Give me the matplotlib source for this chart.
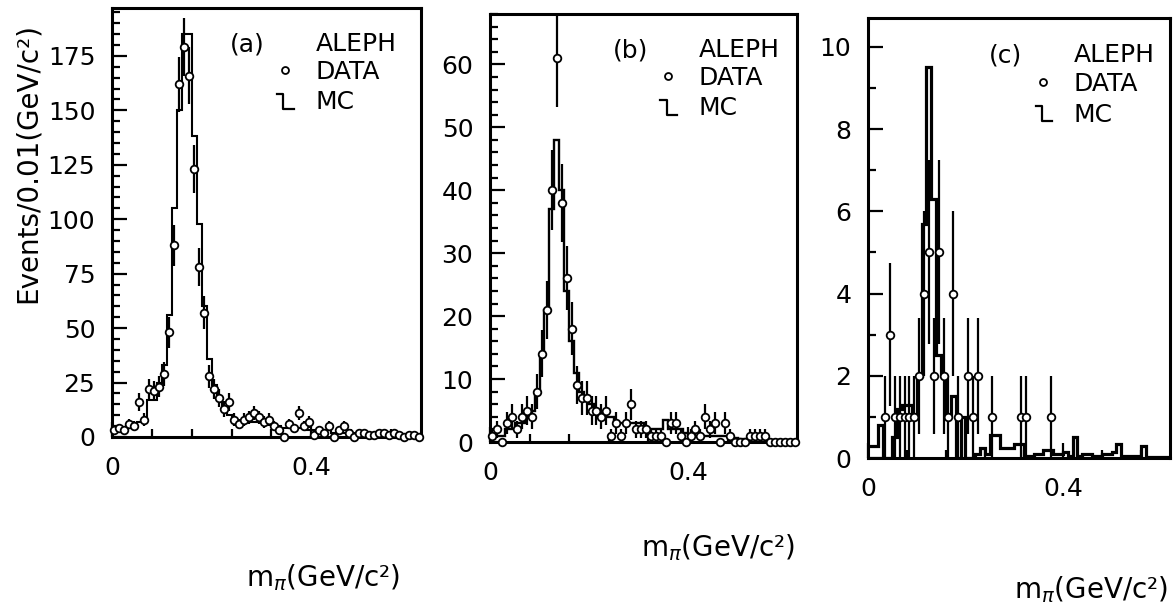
import numpy as np
import matplotlib
matplotlib.use("Agg")
import matplotlib.pyplot as plt
from matplotlib.ticker import MultipleLocator, FixedLocator
from matplotlib.lines import Line2D

plt.rcParams['font.family'] = ['DejaVu Sans']

# ---------------- data (62 bins of 0.01 GeV/c^2 from 0 to 0.62) ----------------
bin_width = 0.01
n_bins = 62

data_a = [3, 4, 3, 6, 5, 16, 8, 22, 21, 23,
          29, 48, 88, 162, 179, 166, 123, 78, 57, 28,
          22, 18, 13, 16, 8, 6, 8, 9, 11, 9,
          7, 8, 5, 3, 0, 6, 4, 11, 5, 7,
          1, 3, 2, 5, 0, 3, 5, 2, 0, 2,
          2, 1, 1, 2, 2, 1, 2, 1, 0, 1,
          1, 0]
mc_a = [3, 3, 4, 5, 6, 7, 8, 17, 17, 25,
        33, 56, 105, 150, 185, 185, 138, 98, 60, 36,
        24, 18, 13, 10, 8, 7, 7, 7, 7, 7,
        6, 6, 5, 5, 4, 4, 4, 4, 4, 3,
        3, 3, 3, 3, 2, 2, 2, 2, 2, 2,
        2, 2, 2, 1, 1, 1, 1, 1, 1, 1,
        1, 1]

data_b = [1, 2, 0, 3, 4, 2, 4, 5, 4, 8,
          14, 21, 40, 61, 38, 26, 18, 9, 7, 7,
          5, 5, 4, 5, 1, 3, 1, 3, 6, 2,
          2, 2, 1, 1, 1, 0, 3, 3, 1, 0,
          1, 2, 1, 4, 2, 3, 0, 3, 1, 0,
          0, 0, 1, 1, 1, 1, 0, 0, 0, 0,
          0, 0]
mc_b = [1, 1, 1, 2, 2, 3, 3, 4, 5, 8,
        14, 21, 37, 48, 40, 24, 16, 11, 8, 7,
        6, 5, 4, 4, 4, 3, 3, 3, 3, 3,
        3, 2, 2, 2, 2, 3.5, 2, 2, 2, 1.5,
        1, 1, 1, 1, 1, 1, 1, 1, 1, 0.7,
        0.5, 0.5, 0.5, 0.5, 0.5, 0.5, 0.3, 0.3, 0.3, 0.3,
        0.3, 0.3]

data_c = [0, 0, 0, 1, 3, 1, 1, 1, 1, 1,
          2, 4, 5, 2, 5, 2, 1, 4, 1, 0,
          2, 1, 2, 0, 0, 1, 0, 0, 0, 0,
          0, 1, 1, 0, 0, 0, 0, 1, 0, 0,
          0, 0, 0, 0, 0, 0, 0, 0, 0, 0,
          0, 0, 0, 0, 0, 0, 0, 0, 0, 0,
          0, 0]
mc_c = [0.3, 0.3, 0.8, 0, 0, 0.5, 1.2, 1.3, 1.3, 1.0,
        2.0, 5.7, 9.5, 6.3, 2.5, 2.0, 1.0, 1.5, 0, 1.0,
        0, 0, 0.1, 0.25, 0.1, 0.55, 0.55, 0.25, 0.25, 0.25,
        0.35, 0.35, 0.05, 0.05, 0.1, 0.1, 0.2, 0.2, 0.1, 0.1,
        0.15, 0.05, 0.5, 0.05, 0.1, 0.1, 0.05, 0.05, 0.1, 0.1,
        0.15, 0.35, 0.05, 0.05, 0.05, 0.05, 0.3, 0.02, 0.02, 0.02,
        0.02, 0.02]

panel_tags = ["(a)", "(b)", "(c)"]
legend_words = ["ALEPH", "DATA", "MC"]
x_tick_labels = ["0", "0.4"]
y_label = "Events/0.01(GeV/c²)"
x_label = r"m$_{\pi}$(GeV/c²)"

# ---------------- layout ----------------
W, H = 1173, 611
fig = plt.figure(figsize=(W / 100, H / 100), dpi=100)

def px_axes(left, top, right, bottom):
    return fig.add_axes([left / W, 1 - bottom / H, (right - left) / W, (bottom - top) / H])

panels = [
    dict(box=(112, 8, 421, 437), data=data_a, mc=mc_a, ylim=197, major=25, minor=5,
         mclw=1.5, lab=(400, 578), legx=0.38),
    dict(box=(490, 14, 797, 442), data=data_b, mc=mc_b, ylim=68, major=10, minor=2,
         mclw=1.7, lab=(795, 548), legx=0.40),
    dict(box=(868, 18, 1170, 458), data=data_c, mc=mc_c, ylim=10.7, major=2, minor=1,
         mclw=2.3, lab=(1168, 590), legx=0.40),
]

edges = np.linspace(0, n_bins * bin_width, n_bins + 1)
centers = 0.5 * (edges[:-1] + edges[1:])
FS = 18
LFS = 18
AFS = 20

for i, p in enumerate(panels):
    ax = px_axes(*p["box"])
    data = np.array(p["data"], dtype=float)
    mc = np.array(p["mc"], dtype=float)

    # MC histogram
    ax.stairs(mc, edges, color="black", lw=p["mclw"], baseline=None)

    # data points with Poisson errors
    err = np.sqrt(data)
    nz = data > 0
    ax.errorbar(centers[nz], data[nz], yerr=err[nz], fmt="none", ecolor="black",
                elinewidth=1.6, capsize=0, zorder=3)
    if i < 2:
        ax.plot(centers, data, "o", ms=5.5, mfc="white", mec="black", mew=1.3, zorder=4,
                clip_on=False)
    else:
        ax.plot(centers[nz], data[nz], "o", ms=5.5, mfc="white", mec="black", mew=1.3,
                zorder=4)

    ax.set_xlim(0, 0.62)
    ax.set_ylim(0, p["ylim"])
    for s in ax.spines.values():
        s.set_linewidth(2.2)
    ax.xaxis.set_major_locator(FixedLocator([0, 0.4]))
    ax.set_xticklabels(x_tick_labels)
    ax.xaxis.set_minor_locator(FixedLocator([0.08, 0.16, 0.24, 0.32, 0.48, 0.56]))
    ax.yaxis.set_major_locator(MultipleLocator(p["major"]))
    ax.yaxis.set_minor_locator(MultipleLocator(p["minor"]))
    ax.tick_params(which="both", direction="in", top=False, right=False, width=1.6,
                   labelsize=FS)
    ax.tick_params(which="major", length=11)
    ax.tick_params(which="minor", length=6)
    ax.tick_params(axis="x", which="major", pad=14)
    ax.tick_params(axis="y", which="major", pad=12)

    # legend block
    lx = p["legx"]
    ax.text(lx, 0.915, panel_tags[i], transform=ax.transAxes, fontsize=LFS,
            ha="left", va="center")
    ax.text(lx + 0.28, 0.915, legend_words[0], transform=ax.transAxes, fontsize=LFS,
            ha="left", va="center")
    ax.text(lx + 0.28, 0.85, legend_words[1], transform=ax.transAxes, fontsize=LFS,
            ha="left", va="center")
    ax.text(lx + 0.28, 0.78, legend_words[2], transform=ax.transAxes, fontsize=LFS,
            ha="left", va="center")
    ax.plot([lx + 0.18], [0.855], "o", ms=5, mfc="white", mec="black", mew=1.3,
            transform=ax.transAxes)
    sym = Line2D([lx + 0.155, lx + 0.175, lx + 0.175, lx + 0.21],
                 [0.80, 0.80, 0.765, 0.765], color="black", lw=1.6,
                 transform=ax.transAxes)
    ax.add_line(sym)

    fig.text(p["lab"][0] / W, 1 - p["lab"][1] / H, x_label, fontsize=AFS,
             ha="right", va="center")

fig.text(28 / W, 1 - 163 / H, y_label, fontsize=AFS, rotation=90,
         ha="center", va="center")

fig.savefig("out.png", dpi=100, facecolor="white")
